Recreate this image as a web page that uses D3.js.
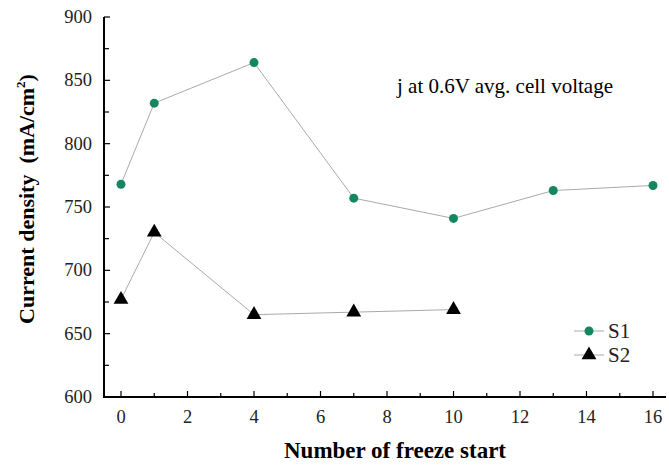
<!DOCTYPE html>
<html><head><meta charset="utf-8">
<script src="https://cdn.jsdelivr.net/npm/d3@7"></script>
<style>body{margin:0;background:#fff}svg{display:block}</style>
</head><body><svg id="c" width="669" height="465" font-family="'Liberation Serif', 'Times New Roman', Times, 'DejaVu Serif', serif"></svg>
<script>
const s1X = [0, 1, 4, 7, 10, 13, 16];
const s1Y = [768, 832, 864, 757, 741, 763, 767];
const s2X = [0, 1, 4, 7, 10];
const s2Y = [677, 730, 665, 667, 669];
const yTicks = [600, 650, 700, 750, 800, 850, 900];
const xTicks = [0, 2, 4, 6, 8, 10, 12, 14, 16];
const seriesNames = ["S1", "S2"];

const FONT = "'Liberation Serif', 'Times New Roman', Times, 'DejaVu Serif', serif";
const svg = d3.select("#c");
const x = d3.scaleLinear().domain([0, 16]).range([121, 653]);
const y = d3.scaleLinear().domain([600, 900]).range([397, 17]);
const green = "#14875f";

svg.append("line").attr("x1",104).attr("x2",104).attr("y1",17).attr("y2",398).attr("stroke","#000").attr("stroke-width",2);
svg.append("line").attr("x1",103).attr("x2",666).attr("y1",397).attr("y2",397).attr("stroke","#000").attr("stroke-width",2);

const yAll = d3.range(600, 901, 25);
svg.selectAll(".yt").data(yAll).enter().append("line")
  .attr("x1",104).attr("x2",d=> d%50===0?110:109).attr("y1",d=>y(d)).attr("y2",d=>y(d))
  .attr("stroke","#000").attr("stroke-width",1.2);
svg.selectAll(".yl").data(yTicks).enter().append("text")
  .attr("x",92).attr("y",d=>y(d)+6).attr("text-anchor","end").attr("font-family",FONT)
  .attr("font-size",18.5).attr("fill","#222").text(d=>d);

const xAll = d3.range(0, 17, 1);
svg.selectAll(".xt").data(xAll).enter().append("line")
  .attr("x1",d=>x(d)).attr("x2",d=>x(d)).attr("y1",397).attr("y2",d=> d%2===0?391:393)
  .attr("stroke","#000").attr("stroke-width",1.2);
svg.selectAll(".xl").data(xTicks).enter().append("text")
  .attr("x",d=>x(d)).attr("y",423).attr("text-anchor","middle").attr("font-family",FONT)
  .attr("font-size",18.5).attr("fill","#222").text(d=>d);

svg.append("text").attr("x",395).attr("y",458).attr("text-anchor","middle").attr("font-family",FONT)
  .attr("font-size",23).attr("font-weight","bold").text("Number of freeze start");
const yl = svg.append("text").attr("transform","translate(34,199) rotate(-90)").attr("font-family",FONT)
  .attr("text-anchor","middle").attr("font-size",22).attr("font-weight","bold")
  .style("white-space","pre").attr("xml:space","preserve");
yl.append("tspan").text("Current density  (mA/cm");
yl.append("tspan").attr("font-size",13).attr("dy",-9).text("2");
yl.append("tspan").attr("dy",9).text(")");

svg.append("text").attr("x",397).attr("y",93).attr("font-family",FONT).attr("font-size",21).text("j at 0.6V avg. cell voltage");

const line = d3.line().x(d=>x(d[0])).y(d=>y(d[1]));
const d1 = s1X.map((v,i)=>[v,s1Y[i]]);
const d2 = s2X.map((v,i)=>[v,s2Y[i]]);
svg.append("path").attr("d",line(d1)).attr("fill","none").attr("stroke","#aaa").attr("stroke-width",1);
svg.append("path").attr("d",line(d2)).attr("fill","none").attr("stroke","#aaa").attr("stroke-width",1);
svg.selectAll(".p1").data(d1).enter().append("circle")
  .attr("cx",d=>x(d[0])).attr("cy",d=>y(d[1])).attr("r",4.5).attr("fill",green);
const tri = d3.symbol().type(d3.symbolTriangle).size(95);
svg.selectAll(".p2").data(d2).enter().append("path")
  .attr("d",tri).attr("transform",d=>`translate(${x(d[0])},${y(d[1])})`).attr("fill","#000");

const lg = [{n:seriesNames[0],yy:331,t:"c"},{n:seriesNames[1],yy:355,t:"t"}];
lg.forEach(l=>{
  svg.append("line").attr("x1",574).attr("x2",604).attr("y1",l.yy).attr("y2",l.yy).attr("stroke","#aaa").attr("stroke-width",1);
  if(l.t==="c") svg.append("circle").attr("cx",589).attr("cy",l.yy).attr("r",4.5).attr("fill",green);
  else svg.append("path").attr("d",tri).attr("transform",`translate(589,${l.yy})`).attr("fill","#000");
  svg.append("text").attr("x",608).attr("y",l.yy+7).attr("font-family",FONT).attr("font-size",21).attr("fill","#222").text(l.n);
});
</script></body></html>
